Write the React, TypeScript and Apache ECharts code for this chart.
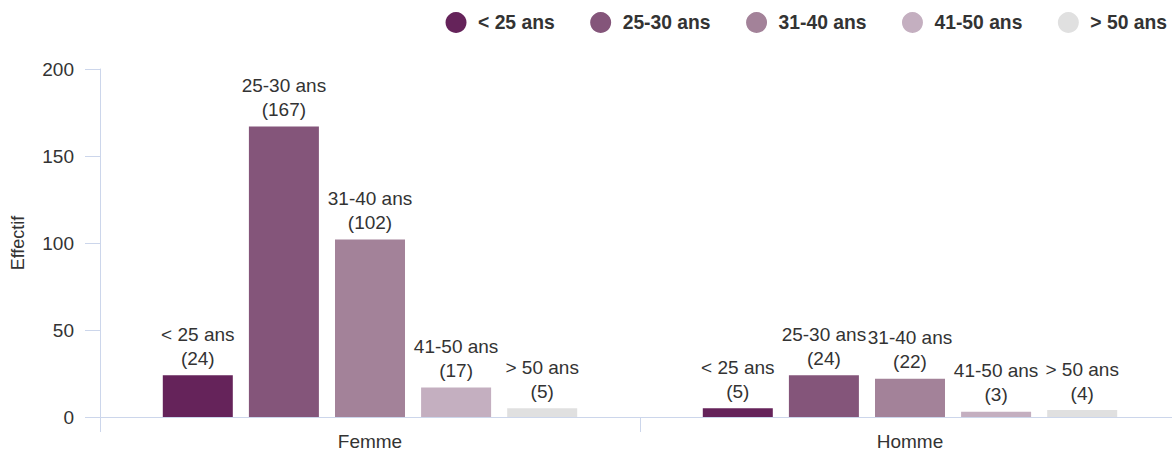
import React, { useEffect, useRef } from "react";
import * as echarts from "echarts";

const categories = ["Femme", "Homme"];
const seriesNames = ["< 25 ans", "25-30 ans", "31-40 ans", "41-50 ans", "> 50 ans"];
const under25 = [24, 5];
const from25to30 = [167, 24];
const from31to40 = [102, 22];
const from41to50 = [17, 3];
const over50 = [5, 4];
const colors = ["#65235A", "#84557A", "#A38299", "#C4AFC0", "#E0E0E0"];
const yTicks = { min: 0, max: 200, interval: 50 };

const FONT = "'Liberation Sans', Arial, sans-serif";

export default function App() {
  const ref = useRef<HTMLDivElement>(null);
  useEffect(() => {
    if (!ref.current) return;
    const chart = echarts.init(ref.current, null, { renderer: "svg" });
    const values = [under25, from25to30, from31to40, from41to50, over50];
    chart.setOption({
      animation: false,
      textStyle: { fontFamily: FONT },
      color: colors,
      legend: {
        right: 0,
        top: 7,
        icon: "circle",
        itemWidth: 34,
        itemHeight: 21,
        itemGap: 35.5,
        textStyle: { fontSize: 19.3, fontWeight: "bold", color: "#333", fontFamily: FONT },
        data: seriesNames,
      },
      grid: { left: 100, width: 1080, top: 69, height: 348, outerBoundsMode: "none" },
      xAxis: {
        type: "category",
        data: categories,
        axisLine: { lineStyle: { color: "#ccd6eb" } },
        axisTick: { show: true, length: 15, lineStyle: { color: "#ccd6eb" } },
        axisLabel: { fontSize: 19, lineHeight: 18, color: "#333", margin: 15, fontFamily: FONT },
      },
      yAxis: {
        type: "value",
        min: yTicks.min,
        max: yTicks.max,
        interval: yTicks.interval,
        name: "Effectif",
        nameLocation: "middle",
        nameGap: 73,
        nameTextStyle: { fontSize: 18, color: "#333", fontFamily: FONT },
        axisLine: { show: true, lineStyle: { color: "#ccd6eb" } },
        axisTick: { show: true, length: 15, lineStyle: { color: "#ccd6eb" } },
        splitLine: { show: false },
        axisLabel: { fontSize: 19, color: "#333", margin: 26, fontFamily: FONT },
      },
      series: seriesNames.map((name, i) => ({
        name,
        type: "bar",
        data: values[i],
        barWidth: 70,
        barGap: "23%",
        itemStyle: { color: colors[i] },
        label: {
          show: true,
          position: "top",
          distance: 5,
          formatter: "{a}\n({c})",
          fontSize: 19,
          lineHeight: 24,
          color: "#333",
          fontFamily: FONT,
        },
      })),
    });
    return () => chart.dispose();
  }, []);
  return (
    <div
      ref={ref}
      style={{ position: "absolute", left: 0, top: 0, width: 1172, height: 450 }}
    />
  );
}
